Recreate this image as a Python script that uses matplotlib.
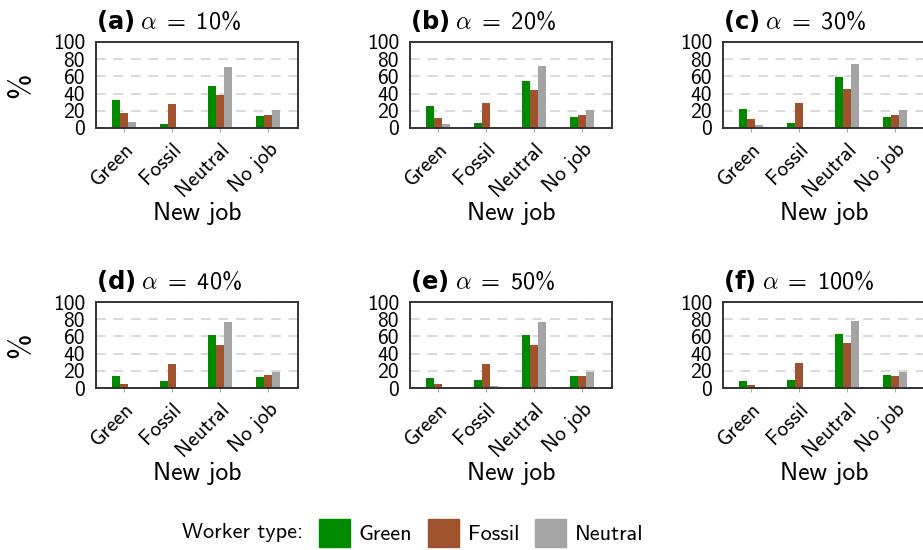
#!/usr/bin/env python3
# -*- coding: utf-8 -*-
"""
Новая работа по типу работника при разных alpha
"""

import matplotlib
matplotlib.use('Agg')
import matplotlib.pyplot as plt
from matplotlib.patches import Patch
import numpy as np

plt.rcParams['font.family'] = ['cmss10', 'DejaVu Sans']
plt.rcParams['axes.unicode_minus'] = False
plt.rcParams['mathtext.fontset'] = 'custom'
plt.rcParams['mathtext.rm'] = 'cmss10'
plt.rcParams['mathtext.it'] = 'cmss10'
plt.rcParams['mathtext.bf'] = 'DejaVu Sans:bold'
plt.rcParams['mathtext.fallback'] = 'cm'

# данные (значения в %)
categories = ['Green', 'Fossil', 'Neutral', 'No job']
worker_types = ['Green', 'Fossil', 'Neutral']
colors = ['#008a00', '#a0522d', '#a4a4a4']
panel_letters = ['a', 'b', 'c', 'd', 'e', 'f']
alphas = [10, 20, 30, 40, 50, 100]

# строки: категории новой работы; столбцы: Green, Fossil, Neutral
vals_a = [[32.6, 17.0, 6.6], [4.3, 27.5, 0.4], [48.8, 38.0, 71.0], [14.0, 15.0, 21.0]]
vals_b = [[25.6, 11.6, 4.7], [5.4, 28.7, 0.3], [54.7, 44.2, 72.0], [12.8, 14.7, 21.0]]
vals_c = [[22.0, 10.5, 3.5], [5.4, 28.7, 0.3], [59.3, 45.3, 74.4], [12.8, 14.7, 21.0]]
vals_d = [[13.6, 4.3, 0.3], [8.5, 28.3, 1.5], [62.0, 50.4, 76.4], [13.2, 14.7, 19.0]]
vals_e = [[11.2, 4.3, 0.3], [9.7, 28.3, 1.9], [62.0, 50.4, 76.4], [14.3, 14.3, 19.0]]
vals_f = [[8.5, 3.1, 0.3], [9.7, 28.7, 1.5], [62.4, 52.0, 77.5], [15.5, 14.3, 19.0]]
all_vals = [vals_a, vals_b, vals_c, vals_d, vals_e, vals_f]

W, H = 923, 550
fig = plt.figure(figsize=(W / 100, H / 100), dpi=100)

col_left = [96, 410, 723]
row_top = [42, 302]
ax_w, ax_h = 202, 86

x = np.arange(len(categories))
bw = 1 / 6

for i, vals in enumerate(all_vals):
    r, c = divmod(i, 3)
    ax = fig.add_axes([col_left[c] / W, 1 - (row_top[r] + ax_h) / H, ax_w / W, ax_h / H])
    v = np.array(vals)
    for j in range(3):
        ax.bar(x + (j - 1) * bw, v[:, j], width=bw, color=colors[j], zorder=2)
    ax.set_xlim(-0.583, 3.62)
    ax.set_ylim(0, 100)
    ax.set_yticks([0, 20, 40, 60, 80, 100])
    ax.yaxis.grid(True, linestyle=(0, (5, 4)), color='#d9d9d9', linewidth=1.4, zorder=0)
    ax.set_axisbelow(True)
    for s in ax.spines.values():
        s.set_color('#333333')
        s.set_linewidth(1.4)
    ax.tick_params(axis='y', length=0, pad=8, labelsize=15.5)
    ax.tick_params(axis='x', length=3, color='#aaaaaa', labelsize=15.5, pad=5)
    ax.set_xticks(x)
    ax.set_xticklabels(categories, rotation=45, ha='right', va='top', rotation_mode='anchor')
    ax.set_xlabel('New job', fontsize=18.5)
    ax.xaxis.set_label_coords(0.5, -0.86)
    ax.text(0, 1.25, r'$\mathbf{(%s)}\ \alpha\ =\ %d\%%$' % (panel_letters[i], alphas[i]),
            transform=ax.transAxes, ha='left', va='center', fontsize=17.5)
    if c == 0:
        fig.text(21 / W, 1 - (row_top[r] + ax_h / 2) / H, '%', rotation=90,
                 ha='center', va='center', fontsize=22)

fig.text(182 / W, 1 - 533 / H, 'Worker type:', ha='left', va='center', fontsize=16)
handles = [Patch(color=col) for col in colors]
fig.legend(handles, worker_types, loc='center left', bbox_to_anchor=(319 / W, 1 - 533 / H),
           ncol=3, frameon=False, fontsize=16, handlelength=1.4, handleheight=1.6,
           handletextpad=0.4, columnspacing=0.7, borderpad=0, borderaxespad=0)

fig.savefig('out.png', dpi=100)
